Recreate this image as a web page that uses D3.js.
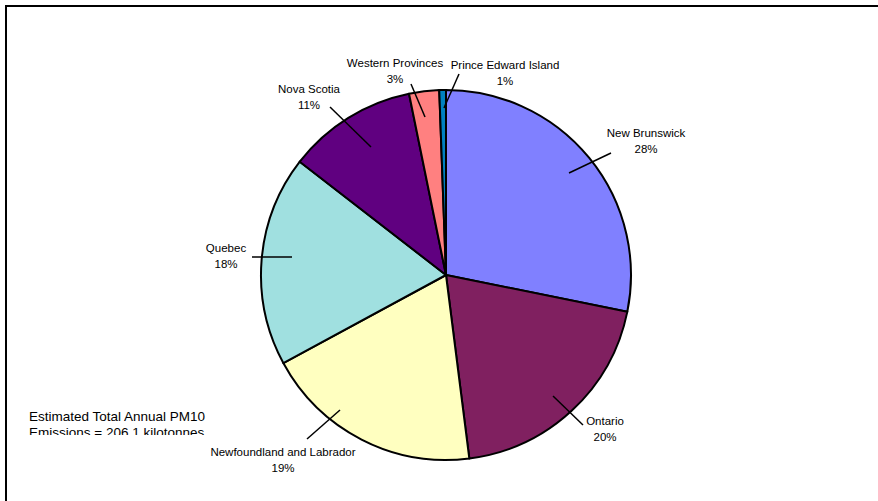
<!DOCTYPE html>
<html>
<head>
<meta charset="utf-8">
<script src="https://cdn.jsdelivr.net/npm/d3@7"></script>
<style>
  html, body { margin: 0; padding: 0; background: #fff; }
  svg { display: block; }
  text { font-family: "Liberation Sans", Arial, sans-serif; fill: #000; }
</style>
</head>
<body>
<div id="chart"></div>
<script>
// PM10 emissions by region (kilotonnes), total 206.1
const regions = ["New Brunswick", "Ontario", "Newfoundland and Labrador", "Quebec", "Nova Scotia", "Western Provinces", "Prince Edward Island"];
const emissions = [58.1, 40.8, 39.4, 37.9, 23.3, 5.4, 1.2];
const sliceColors = ["#8080ff", "#802060", "#ffffc0", "#a0e0e0", "#600080", "#ff8080", "#0080c0"];

// Leader lines [x1, y1, x2, y2] and label anchors [x, baseline] per region
const leaderLines = [
  [569, 173, 611, 153],
  [553, 396, 583, 425],
  [340, 410, 307, 439],
  [292, 257, 252, 257],
  [371, 147, 330, 107],
  [425, 117, 411, 84],
  [444, 108, 459, 74]
];
const labelAnchors = [
  [646, 137],
  [605, 425],
  [283, 456],
  [226, 252],
  [309, 93],
  [395, 67],
  [505, 69]
];

const totalNote = ["Estimated Total Annual PM10", "Emissions = 206.1 kilotonnes"];

const W = 878, H = 501;
const cx = 446, cy = 275, radius = 185;

const svg = d3.select("#chart").append("svg")
  .attr("width", W).attr("height", H);

// Chart area frame (top and left edges visible)
svg.append("path")
  .attr("d", `M6,${H + 5} L6,6 L${W + 5},6`)
  .attr("fill", "none")
  .attr("stroke", "#000")
  .attr("stroke-width", 2);

const total = d3.sum(emissions);
const data = regions.map((r, i) => ({ region: r, value: emissions[i], color: sliceColors[i], i }));

const pie = d3.pie().sort(null).value(d => d.value);
const arc = d3.arc().innerRadius(0).outerRadius(radius);

const g = svg.append("g").attr("transform", `translate(${cx},${cy})`);
g.selectAll("path.slice")
  .data(pie(data))
  .join("path")
  .attr("class", "slice")
  .attr("d", arc)
  .attr("fill", d => d.data.color)
  .attr("stroke", "#000")
  .attr("stroke-width", 2)
  .attr("stroke-linejoin", "round");

// Leader lines
svg.selectAll("line.leader")
  .data(leaderLines)
  .join("line")
  .attr("class", "leader")
  .attr("x1", d => d[0]).attr("y1", d => d[1])
  .attr("x2", d => d[2]).attr("y2", d => d[3])
  .attr("stroke", "#000")
  .attr("stroke-width", 1.5);

// Category and percentage labels
const pct = d3.format(".0%");
const labels = svg.selectAll("text.label")
  .data(data)
  .join("text")
  .attr("class", "label")
  .attr("text-anchor", "middle")
  .attr("font-size", 11.5);
labels.append("tspan")
  .attr("x", d => labelAnchors[d.i][0])
  .attr("y", d => labelAnchors[d.i][1])
  .text(d => d.region);
labels.append("tspan")
  .attr("x", d => labelAnchors[d.i][0])
  .attr("y", d => labelAnchors[d.i][1] + 16)
  .text(d => pct(d.value / total));

// Total note in a text box that clips its second line
svg.append("clipPath").attr("id", "noteClip")
  .append("rect").attr("x", 20).attr("y", 400).attr("width", 240).attr("height", 35);
svg.append("text")
  .attr("clip-path", "url(#noteClip)")
  .attr("font-size", 13.5)
  .selectAll("tspan")
  .data(totalNote)
  .join("tspan")
  .attr("x", 29)
  .attr("y", (d, i) => 421 + i * 16)
  .text(d => d);
</script>
</body>
</html>
